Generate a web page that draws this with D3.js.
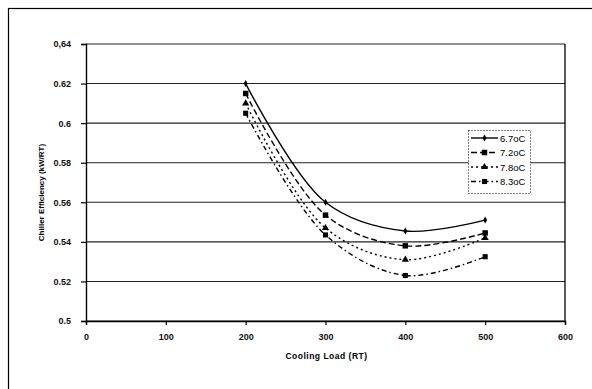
<!DOCTYPE html>
<html>
<head>
<meta charset="utf-8">
<script src="https://cdn.jsdelivr.net/npm/d3@7"></script>
<style>
  body { margin: 0; background: #fff; }
  text { font-family: "Liberation Sans", Arial, sans-serif; }
</style>
</head>
<body>
<div id="chart"></div>
<script>
// data
const loads = [200, 300, 400, 500];
const seriesNames = ["6.7oC", "7.2oC", "7.8oC", "8.3oC"];
const eff67 = [0.620, 0.560, 0.5455, 0.551];
const eff72 = [0.615, 0.5535, 0.538, 0.5445];
const eff78 = [0.610, 0.547, 0.531, 0.542];
const eff83 = [0.605, 0.5435, 0.523, 0.5325];
const xTicks = [0, 100, 200, 300, 400, 500, 600];
const yTicks = [0.5, 0.52, 0.54, 0.56, 0.58, 0.6, 0.62, 0.64];
const yTickLabels = ["0.5", "0.52", "0.54", "0.56", "0.58", "0.6", "0.62", "0,64"];

const width = 592, height = 389;
const margin = {left: 86, right: 27, top: 44, bottom: 68};

const svg = d3.select("#chart").append("svg")
    .attr("width", width)
    .attr("height", height);

// outer frame of the chart
svg.append("rect")
    .attr("x", 8.5).attr("y", 8.5)
    .attr("width", 620).attr("height", 420)
    .attr("fill", "none")
    .attr("stroke", "#000")
    .attr("stroke-width", 1.2);

const x = d3.scaleLinear().domain([0, 600]).range([margin.left, width - margin.right]);
const y = d3.scaleLinear().domain([0.5, 0.64]).range([height - margin.bottom, margin.top]);

// gridlines
svg.append("g")
   .selectAll("line")
   .data(yTicks)
   .enter()
   .append("line")
   .attr("x1", x(0)).attr("x2", x(600))
   .attr("y1", d => y(d)).attr("y2", d => y(d))
   .attr("stroke", "#222")
   .attr("stroke-width", 1.1);

// right border
svg.append("line")
   .attr("x1", x(600)).attr("x2", x(600))
   .attr("y1", y(0.64)).attr("y2", y(0.5))
   .attr("stroke", "#000").attr("stroke-width", 1.3);

// axes
const xAxis = svg.append("g")
    .attr("transform", `translate(0,${y(0.5)})`)
    .call(d3.axisBottom(x).tickValues(xTicks).tickSize(4).tickPadding(9).tickFormat(d3.format("d")));
const yAxis = svg.append("g")
    .attr("transform", `translate(${x(0)},0)`)
    .call(d3.axisLeft(y).tickValues(yTicks).tickSize(5).tickPadding(10)
        .tickFormat((d, i) => yTickLabels[i]));

[xAxis, yAxis].forEach(a => {
    a.select(".domain").attr("stroke", "#000").attr("stroke-width", 1.4);
    a.selectAll(".tick line").attr("stroke", "#000").attr("stroke-width", 1.2);
    a.selectAll(".tick text")
     .style("font-size", "9px")
     .style("font-weight", "bold")
     .style("fill", "#111");
});

// axis titles
svg.append("text")
   .attr("x", (x(0) + x(600)) / 2 + 1)
   .attr("y", 359)
   .attr("text-anchor", "middle")
   .style("font-size", "8.5px")
   .style("font-weight", "bold")
   .style("letter-spacing", "0.5px")
   .text("Cooling Load (RT)");

svg.append("text")
   .attr("transform", `translate(44,${(y(0.5) + y(0.64)) / 2 + 10}) rotate(-90)`)
   .attr("text-anchor", "middle")
   .style("font-size", "8px")
   .style("font-weight", "bold")
   .text("Chiller Efficiency (kW/RT)");

// series
const series = [
    {name: seriesNames[0], values: eff67, dash: null, marker: d3.symbolDiamond, size: 14},
    {name: seriesNames[1], values: eff72, dash: "6,3", marker: d3.symbolSquare, size: 30},
    {name: seriesNames[2], values: eff78, dash: "2,3", marker: d3.symbolTriangle, size: 22},
    {name: seriesNames[3], values: eff83, dash: "5,3,1.5,3", marker: d3.symbolSquare, size: 26}
];

const line = d3.line()
    .x(d => x(d[0]))
    .y(d => y(d[1]))
    .curve(d3.curveCatmullRom.alpha(0.5));

series.forEach(s => {
    const pts = loads.map((l, i) => [l, s.values[i]]);
    svg.append("path")
       .datum(pts)
       .attr("d", line)
       .attr("fill", "none")
       .attr("stroke", "#000")
       .attr("stroke-width", 1.4)
       .attr("stroke-dasharray", s.dash);
    svg.selectAll(null)
       .data(pts)
       .enter()
       .append("path")
       .attr("transform", d => `translate(${x(d[0])},${y(d[1])})`)
       .attr("d", d3.symbol().type(s.marker).size(s.size))
       .attr("fill", "#000");
});

// legend
const legend = svg.append("g").attr("transform", "translate(468,130)");
legend.append("rect")
      .attr("x", 0.5).attr("y", 0.5)
      .attr("width", 62).attr("height", 63)
      .attr("fill", "#fff")
      .attr("stroke", "#000")
      .attr("stroke-dasharray", "1,2");

series.forEach((s, i) => {
    const ly = 8 + i * 14.5;
    legend.append("line")
          .attr("x1", 3).attr("x2", 30)
          .attr("y1", ly).attr("y2", ly)
          .attr("stroke", "#000")
          .attr("stroke-width", 1.4)
          .attr("stroke-dasharray", s.dash);
    legend.append("path")
          .attr("transform", `translate(16.5,${ly})`)
          .attr("d", d3.symbol().type(s.marker).size(s.size))
          .attr("fill", "#000");
    legend.append("text")
          .attr("x", 32).attr("y", ly + 3.5)
          .style("font-size", "9.5px")
          .text(s.name);
});
</script>
</body>
</html>
